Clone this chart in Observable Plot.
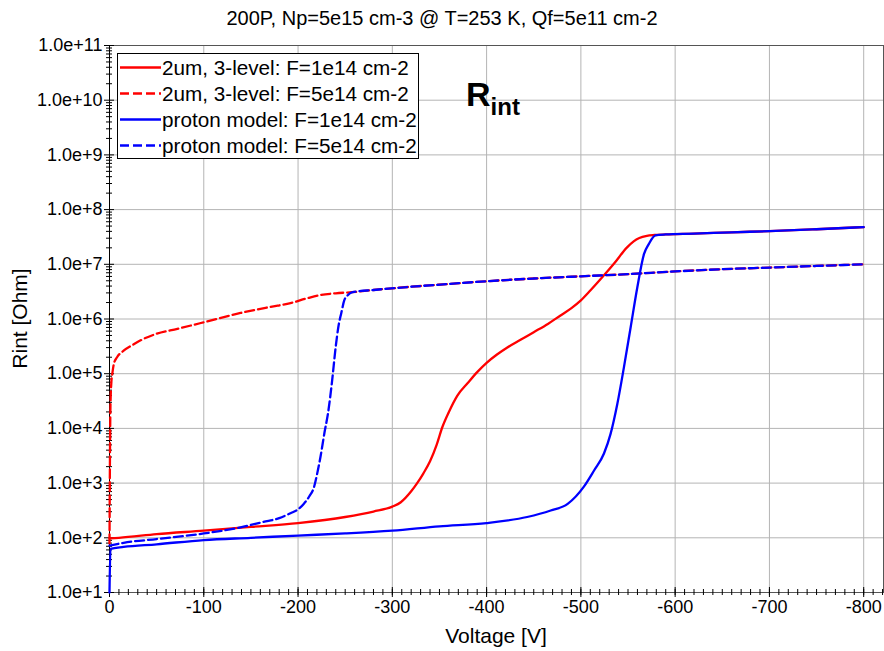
<!DOCTYPE html>
<html><head><meta charset="utf-8">
<script src="https://cdn.jsdelivr.net/npm/d3@7"></script>
<script src="https://cdn.jsdelivr.net/npm/@observablehq/plot@0.6"></script>
<style>
body{margin:0;background:#fff;}
svg{font-family:"Liberation Sans",Arial,sans-serif;}
</style>
</head><body><div id="chart"></div>
<script>
const titleText = "200P, Np=5e15 cm-3 @ T=253 K, Qf=5e11 cm-2";
const xLabelText = "Voltage [V]";
const yLabelText = "Rint [Ohm]";
const seriesNames = [
  "2um, 3-level: F=1e14 cm-2",
  "2um, 3-level: F=5e14 cm-2",
  "proton model: F=1e14 cm-2",
  "proton model: F=5e14 cm-2"
];
const seriesColors = ["#ff0000", "#ff0000", "#0000ff", "#0000ff"];
const seriesDash = [null, "9,4", null, "9,4"];
const xTicks = [0, -100, -200, -300, -400, -500, -600, -700, -800];
const yTicks = [1e1, 1e2, 1e3, 1e4, 1e5, 1e6, 1e7, 1e8, 1e9, 1e10, 1e11];

// 2um, 3-level, F=1e14
const v3L1 = [0, -10, -50, -100, -150, -200, -250, -280, -300, -309, -320, -326, -333, -340, -347, -353, -360, -369, -380, -390, -400, -411, -422, -436, -450, -465, -478, -490, -500, -510, -521, -535, -549, -556, -562, -570, -578, -590, -620, -660, -700, -750, -800];
const r3L1 = [98, 100, 117, 135, 158, 186, 240, 302, 372, 447, 708, 977, 1510, 2510, 5010, 1.05e4, 2.0e4, 3.98e4, 6.76e4, 1.07e5, 1.58e5, 2.24e5, 3.02e5, 4.17e5, 5.75e5, 8.13e5, 1.15e6, 1.58e6, 2.19e6, 3.31e6, 5.37e6, 1.02e7, 2.04e7, 2.63e7, 3.02e7, 3.31e7, 3.43e7, 3.51e7, 3.63e7, 3.85e7, 4.03e7, 4.37e7, 4.79e7];
// 2um, 3-level, F=5e14
const v3L5 = [0, -0.5, -1, -2, -3, -4.6, -8, -15, -25, -33, -50, -72, -100, -139, -170, -192, -210, -224, -240, -257, -280, -320, -360, -400, -450, -500, -550, -600, -650, -700, -750, -800];
const r3L5 = [79, 3160, 2.5e4, 7.1e4, 1.0e5, 1.51e5, 2.0e5, 2.63e5, 3.39e5, 4.07e5, 5.37e5, 6.61e5, 8.71e5, 1.29e6, 1.66e6, 1.95e6, 2.4e6, 2.75e6, 2.95e6, 3.09e6, 3.39e6, 3.89e6, 4.37e6, 4.9e6, 5.5e6, 6.03e6, 6.61e6, 7.41e6, 8.13e6, 8.71e6, 9.33e6, 1.0e7];
// proton model, F=1e14
const vP1 = [0, -1, -15, -50, -100, -150, -200, -250, -300, -350, -400, -443, -468, -486, -503, -514, -524.5, -531.5, -538.7, -545.7, -552.8, -559.9, -567, -572, -579, -590, -620, -660, -700, -750, -800];
const rP1 = [10, 63, 68, 76, 91, 100, 110, 120, 135, 162, 186, 240, 316, 417, 851, 1700, 3470, 7940, 2.82e4, 1.32e5, 7.08e5, 3.8e6, 1.55e7, 2.34e7, 3.39e7, 3.51e7, 3.63e7, 3.85e7, 4.03e7, 4.37e7, 4.79e7];
// proton model, F=5e14
const vP5 = [0, -15, -50, -100, -139, -163, -180, -192, -200, -206, -212, -217, -220, -224, -228, -232, -236, -240, -243, -246, -249, -253, -258, -280, -320, -360, -400, -450, -500, -550, -600, -650, -700, -750, -800];
const rP5 = [72, 81, 95, 120, 155, 195, 229, 282, 331, 417, 575, 851, 1410, 3160, 8320, 2.0e4, 7.08e4, 3.16e5, 7.59e5, 1.32e6, 2.19e6, 2.75e6, 3.09e6, 3.39e6, 3.89e6, 4.37e6, 4.9e6, 5.5e6, 6.03e6, 6.61e6, 7.41e6, 8.13e6, 8.71e6, 9.33e6, 1.0e7];

const seriesV = [v3L1, v3L5, vP1, vP5];
const seriesR = [r3L1, r3L5, rP1, rP5];

const rows = seriesV.flatMap((vs, s) => vs.map((v, i) => ({v, r: seriesR[s][i], s})));

const xMinor = d3.range(0, -830, -10);
const yMinor = [];
for (let k = 1; k < 11; k++) for (let m = 2; m <= 9; m++) yMinor.push(m * 10 ** k);

const W = 884, H = 651;
const mL = 109, mR = 1, mT = 45, mB = 59;

function overlay(index, scales, values, dims) {
  const g = d3.create("svg:g").attr("text-anchor", "start");
  // title
  g.append("text").attr("x", W / 2).attr("y", 25).attr("text-anchor", "middle")
    .attr("font-size", 20).attr("fill", "#000").text(titleText);
  // x label
  g.append("text").attr("x", mL + (W - mL - mR) / 2).attr("y", 643).attr("text-anchor", "middle")
    .attr("font-size", 21).attr("fill", "#000").text(xLabelText);
  // y label
  g.append("text").attr("transform", `translate(27,${mT + (H - mT - mB) / 2}) rotate(-90)`)
    .attr("text-anchor", "middle").attr("font-size", 21).attr("fill", "#000").text(yLabelText);
  // R_int annotation
  const t = g.append("text").attr("x", 466).attr("y", 106).attr("text-anchor", "start")
    .attr("font-weight", "bold").attr("fill", "#000");
  t.append("tspan").attr("font-size", 34).text("R");
  t.append("tspan").attr("font-size", 24).attr("dy", 9).text("int");
  // legend
  const lx = 117, ly = 53, lw = 301, lh = 105;
  g.append("rect").attr("x", lx + 0.5).attr("y", ly + 0.5).attr("width", lw).attr("height", lh)
    .attr("fill", "#fff").attr("stroke", "#000").attr("stroke-width", 1);
  seriesNames.forEach((name, i) => {
    const cy = 67.5 + i * 26;
    g.append("line").attr("x1", lx + 3).attr("x2", lx + 44).attr("y1", cy).attr("y2", cy)
      .attr("stroke", seriesColors[i]).attr("stroke-width", 2.3)
      .attr("stroke-dasharray", seriesDash[i]);
    g.append("text").attr("x", lx + 45).attr("y", cy).attr("dy", "0.36em").attr("text-anchor", "start")
      .attr("font-size", 20.7).attr("fill", "#000").text(name);
  });
  return g.node();
}

const chart = Plot.plot({
  width: W, height: H,
  marginLeft: mL, marginRight: mR, marginTop: mT, marginBottom: mB,
  style: {fontFamily: "'Liberation Sans', Arial, sans-serif", background: "#fff", color: "#000"},
  x: {domain: [0, -821], label: null},
  y: {type: "log", domain: [1e1, 1e11], label: null},
  marks: [
    Plot.gridX(xTicks.slice(1), {stroke: "#b4b4b4", strokeOpacity: 1, strokeWidth: 1}),
    Plot.gridY(yTicks.slice(1, -1), {stroke: "#b4b4b4", strokeOpacity: 1, strokeWidth: 1}),
    Plot.frame({stroke: "#555"}),
    // y axis ticks (outside + inside)
    Plot.axisY({ticks: yTicks, tickSize: 5, tickPadding: 2, tickFormat: d3.format(".1e"), fontSize: 18, label: null, stroke: "#000"}),
    Plot.axisY({ticks: yTicks, tickSize: 5, dx: 5, text: null, label: null, stroke: "#000"}),
    Plot.axisY({ticks: yMinor, tickSize: 3, text: null, label: null, stroke: "#000"}),
    Plot.axisY({ticks: yMinor, tickSize: 3, dx: 3, text: null, label: null, stroke: "#000"}),
    // x axis ticks
    Plot.axisX({ticks: xTicks, tickSize: 5, tickPadding: 3, tickFormat: d => `${d}`, fontSize: 18, label: null, stroke: "#000"}),
    Plot.axisX({ticks: xTicks, tickSize: 5, dy: -5, text: null, label: null, stroke: "#000"}),
    Plot.axisX({ticks: xMinor, tickSize: 3, text: null, label: null, stroke: "#000"}),
    Plot.axisX({ticks: xMinor, tickSize: 3, dy: -3, text: null, label: null, stroke: "#000"}),
    Plot.ruleX([0], {stroke: "#000", strokeWidth: 1}),
    ...[0, 1, 2, 3].map(s => Plot.line(rows.filter(d => d.s === s), {
      x: "v", y: "r", stroke: seriesColors[s], strokeWidth: 2.3,
      strokeDasharray: seriesDash[s], curve: "monotone-x"
    })),
    overlay
  ]
});
document.getElementById("chart").append(chart);
</script>
</body></html>
